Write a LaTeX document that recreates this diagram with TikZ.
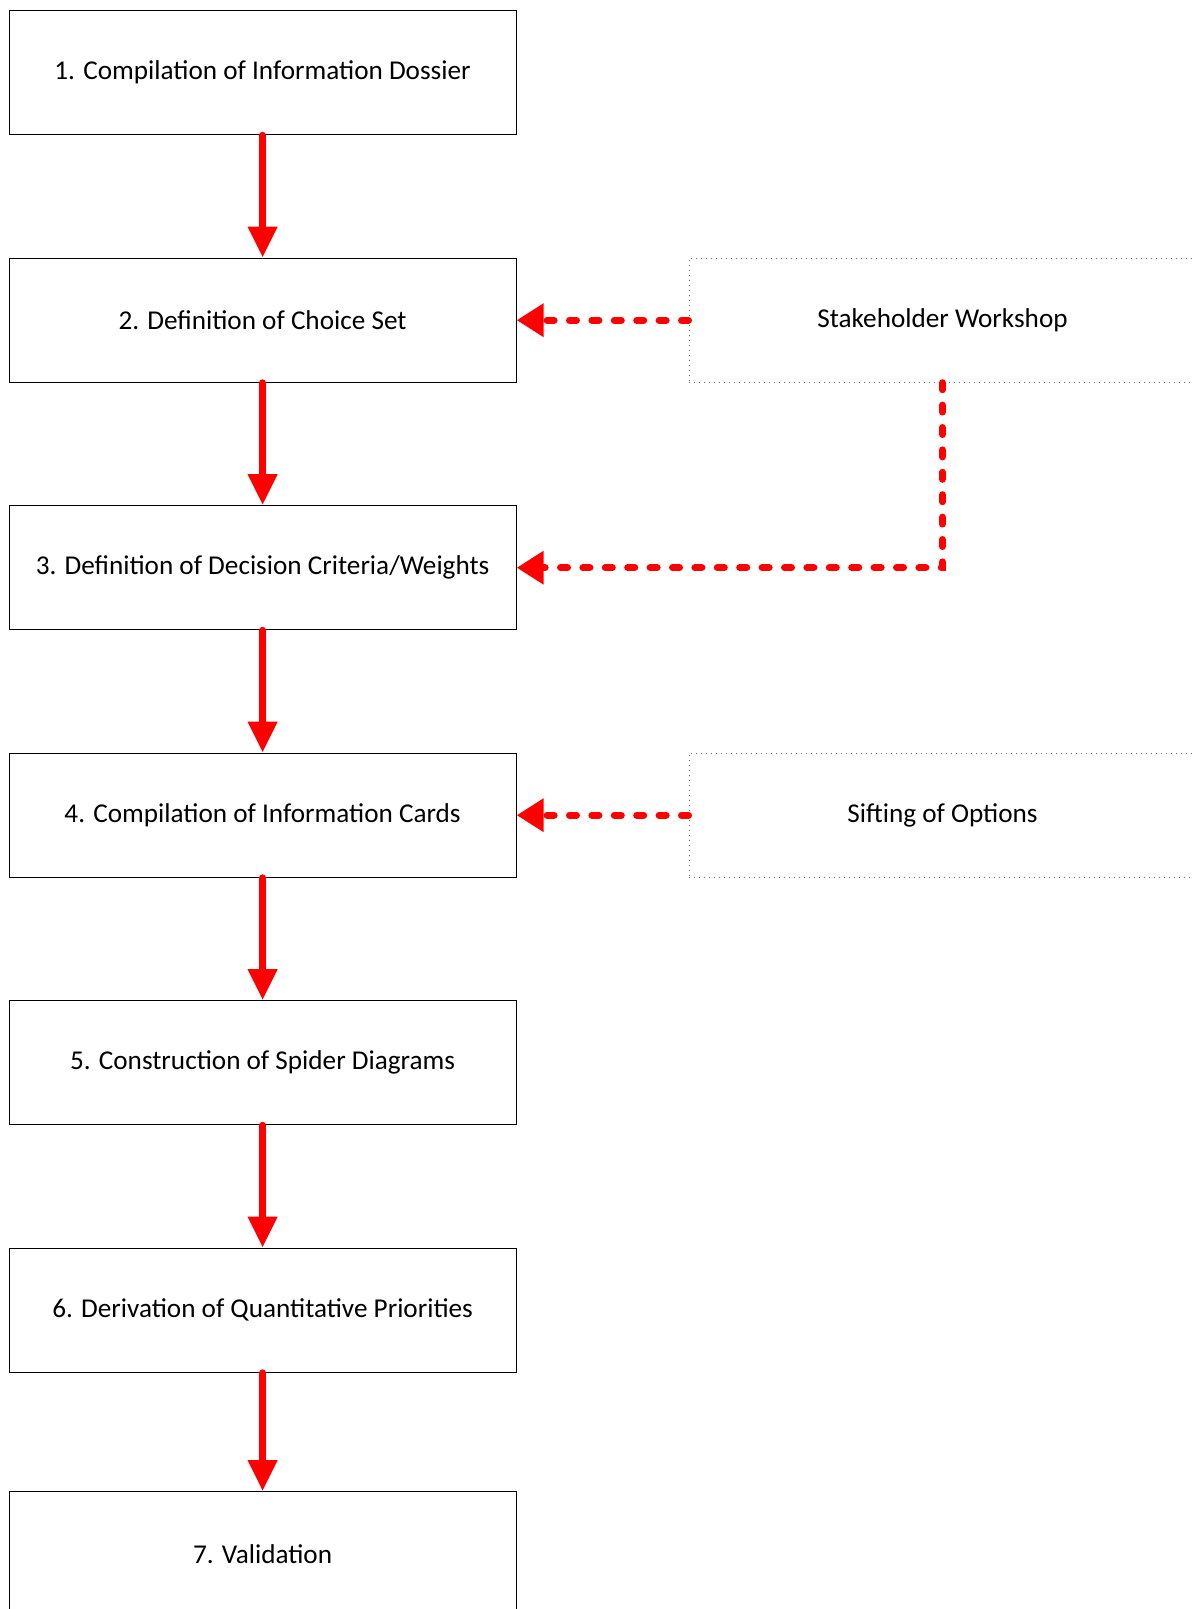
\documentclass[tikz,border=0pt]{standalone}
\usepackage{fontspec}
\setmainfont{Carlito}
\usetikzlibrary{arrows.meta}

\tikzset{
  stagebox/.style={draw=black,line width=0.6pt,minimum width=253.5pt,minimum height=62pt,inner sep=0pt,font=\fontsize{13.6}{16}\selectfont},
  inputbox/.style={draw=black!60,dotted,line width=0.5pt,minimum width=253.5pt,minimum height=62pt,inner sep=0pt,font=\fontsize{13.6}{16}\selectfont},
  flowarrow/.style={red,line width=3.5pt,line cap=round,-{Triangle[length=15.5pt,width=14pt]}},
  feedarrow/.style={red,line width=3.5pt,line cap=round,dash pattern=on 3.5pt off 7.7pt,-{Triangle[length=13.5pt,width=16pt]}}
}

\begin{document}
\begin{tikzpicture}[x=0.5pt,y=-0.5pt]
\useasboundingbox (0,0) rectangle (1193,1609);
\node[stagebox] (dossier) at (262.6,72.7) {1. Compilation of Information Dossier};
\node[stagebox] (choice) at (262.6,320.2) {2. Definition of Choice Set};
\node[stagebox] (criteria) at (262.6,567.7) {3. Definition of Decision Criteria/Weights};
\node[stagebox] (cards) at (262.6,815.2) {4. Compilation of Information Cards};
\node[stagebox] (spider) at (262.6,1062.7) {5. Construction of Spider Diagrams};
\node[stagebox] (priorities) at (262.6,1310.2) {6. Derivation of Quantitative Priorities};
\node[stagebox] (valid) at (262.6,1553.7) {7. Validation};
\node[inputbox] (workshop) at (942.5,320.2) {Stakeholder Workshop};
\node[inputbox] (sifting) at (942.5,815.2) {Sifting of Options};

\draw[flowarrow] (dossier) -- (choice);
\draw[flowarrow] (choice) -- (criteria);
\draw[flowarrow] (criteria) -- (cards);
\draw[flowarrow] (cards) -- (spider);
\draw[flowarrow] (spider) -- (priorities);
\draw[flowarrow] (priorities) -- (valid);

\draw[feedarrow] (workshop.west) -- (choice.east);
\draw[feedarrow] (workshop.south) |- (criteria.east);
\draw[feedarrow] (sifting.west) -- (cards.east);
\end{tikzpicture}
\end{document}
